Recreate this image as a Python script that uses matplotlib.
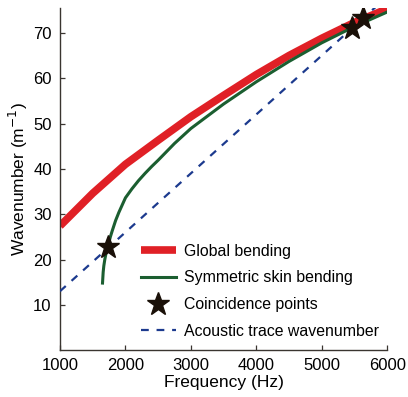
import matplotlib
matplotlib.use("Agg")
import matplotlib.pyplot as plt

plt.rcParams['font.family'] = ['Liberation Sans', 'DejaVu Sans']

# Global bending (red)
global_f = [1000, 1500, 2000, 2500, 3000, 3500, 4000, 4500, 5000, 5500, 6000]
global_k = [27.4, 34.6, 41.0, 46.3, 51.5, 56.2, 60.8, 65.0, 68.8, 72.3, 75.3]

# Symmetric skin bending (green)
skin_f = [1650, 1660, 1670, 1685, 1700, 1730, 1770, 1800, 1850, 1900, 2000, 2100,
          2200, 2300, 2400, 2500, 2750, 3000, 3500, 4000, 4500, 5000, 5500, 6000]
skin_k = [14.8, 17.2, 18.6, 20.0, 21.1, 22.8, 25.0, 26.4, 28.6, 30.4, 33.6, 35.6,
          37.4, 39.0, 40.5, 41.9, 45.6, 48.9, 54.3, 59.2, 63.7, 67.8, 71.4, 74.6]

# Coincidence points
coinc_f = [1729, 5460, 5628]
coinc_k = [22.8, 71.0, 73.2]

# Acoustic trace wavenumber
acoustic_f = [1000, 6000]
acoustic_k = [13.0, 78.0]

xticks = [1000, 2000, 3000, 4000, 5000, 6000]
yticks = [10, 20, 30, 40, 50, 60, 70]

fig = plt.figure(figsize=(4.08, 3.97), dpi=100)
ax = fig.add_axes([0.147, 0.118, 0.802, 0.862])

ax.plot(global_f, global_k, color='#e02026', lw=5.5, solid_capstyle='butt',
        label='Global bending', zorder=2)
ax.plot(skin_f, skin_k, color='#1b5e30', lw=2.2, label='Symmetric skin bending', zorder=3)
ax.plot(coinc_f, coinc_k, ls='none', marker='*', ms=17, color='#1a1008',
        label='Coincidence points', zorder=5)
ax.plot(acoustic_f, acoustic_k, color='#1c3a8e', lw=1.6, ls=(0, (3.5, 3.5)),
        label='Acoustic trace wavenumber', zorder=4)

ax.set_xlim(1000, 6000)
ax.set_ylim(0, 75.5)
ax.set_xticks(xticks)
ax.set_yticks(yticks)
ax.tick_params(direction='in', length=3.5, width=0.9, color='#3a3530',
               labelsize=12, pad=6)
for s in ['top', 'right']:
    ax.spines[s].set_visible(False)
for s in ['left', 'bottom']:
    ax.spines[s].set_color('#3a3530')
    ax.spines[s].set_linewidth(1.0)

ax.set_xlabel('Frequency (Hz)', fontsize=12.5, labelpad=1)
ax.set_ylabel('Wavenumber (m$^{-1}$)', fontsize=12.5, labelpad=2)

leg = ax.legend(loc='upper left', bbox_to_anchor=(0.345, 0.386),
                bbox_transform=fig.transFigure, frameon=False,
                fontsize=11.4, handlelength=2.2, handletextpad=0.55,
                labelspacing=0.74, borderpad=0.0, borderaxespad=0.0)

fig.savefig('out.png', dpi=100)
